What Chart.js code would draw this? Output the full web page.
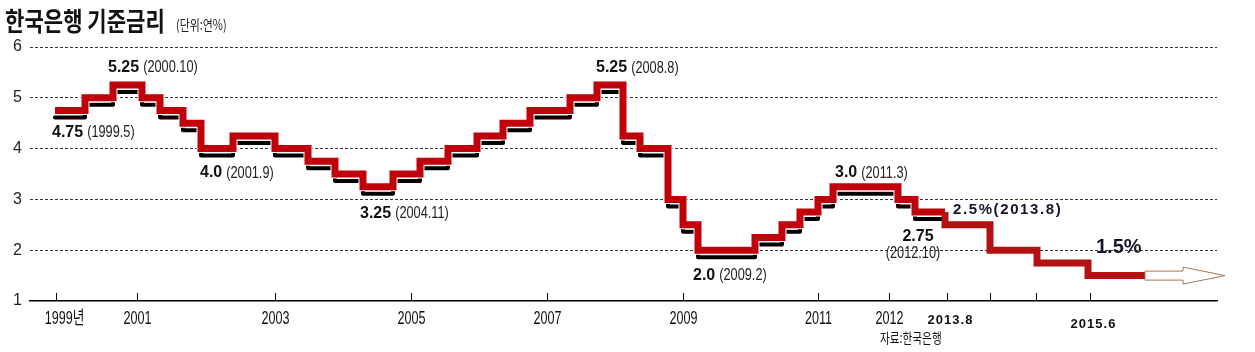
<!DOCTYPE html>
<html><head><meta charset="utf-8">
<script src="https://cdn.jsdelivr.net/npm/chart.js@4.4.1/dist/chart.umd.min.js"></script>
<style>html,body{margin:0;padding:0;background:#fff;}canvas{display:block}</style>
</head><body>
<canvas id="c" width="1255" height="352"></canvas>
<script>
// Positions along the (non-uniform) timeline axis
const stepPos  = [25,55,83,112,130,153,171,203,245,278,305,333,363,390,418,447,473,500,540,567,593,610,638,653,668,725,752,770,788,803,868,885,915];
const stepRate = [4.75,5.0,5.25,5.0,4.75,4.5,4.0,4.25,4.0,3.75,3.5,3.25,3.5,3.75,4.0,4.25,4.5,4.75,5.0,5.25,4.25,4.0,3.0,2.5,2.0,2.25,2.5,2.75,3.0,3.25,3.0,2.75,2.75];
const recentPos  = [915,915,960,1007,1058,1115];
const recentRate = [2.75,2.5,2.0,1.75,1.5,1.5];
const arrowPos  = [1115,1195];
const arrowRate = 1.5;
const xTickPos    = [26,107,245,381,517,653,788,859,917,960,1006,1060];
const xTickLabels = ['1999년','2001','2003','2005','2007','2009','2011','2012','2013.8','','','2015.6'];
const noteBold = ['5.25','4.75','4.0','3.25','5.25','2.0','3.0'];
const noteDate = ['(2000.10)','(1999.5)','(2001.9)','(2004.11)','(2008.8)','(2009.2)','(2011.3)'];
const notePos  = [78,22,170,330,566,663,805];
const noteRate = [5.6,4.32,3.52,2.72,5.59,1.5,3.52];

const SANS = "'Liberation Sans',Arial,'Noto Sans CJK KR',sans-serif";
const KR = "'Noto Sans CJK KR',sans-serif";

function txt(ctx, s, x, y, font, color, align, sx, spacing){
  ctx.save();
  ctx.font = font; ctx.fillStyle = color; ctx.textBaseline = 'middle';
  ctx.textAlign = align || 'left';
  if (spacing) ctx.letterSpacing = spacing;
  ctx.translate(x, y); ctx.scale(sx || 1, 1);
  ctx.fillText(s, 0, 0);
  ctx.restore();
}
function measure(ctx, s, font){ ctx.save(); ctx.font = font; const w = ctx.measureText(s).width; ctx.restore(); return w; }

const pts = (xs, ys) => xs.map((x, i) => ({x, y: ys[i]}));

const shadowPlugin = {
  id: 'shadow',
  beforeDatasetDraw(chart, args){ if (chart.data.datasets[args.index].isShadow){ chart.ctx.save(); chart.ctx.translate(0, 7); } },
  afterDatasetDraw(chart, args){ if (chart.data.datasets[args.index].isShadow){ chart.ctx.restore(); } }
};

const decoPlugin = {
  id: 'deco',
  afterDraw(chart){
    const ctx = chart.ctx, xs = chart.scales.x, ys = chart.scales.y;
    const bottom = chart.chartArea.bottom;
    // title
    txt(ctx, '한국은행 기준금리', 5, 21, 'bold 26px ' + KR, '#111', 'left', 0.81);
    txt(ctx, '(단위:연%)', 176, 25, '14px ' + KR, '#222', 'left', 0.78);
    // x ticks and labels
    ctx.save(); ctx.strokeStyle = '#000'; ctx.lineWidth = 1;
    xTickPos.forEach((p, i) => {
      const px = Math.round(xs.getPixelForValue(p)) + 0.5;
      ctx.beginPath(); ctx.moveTo(px, bottom - 8); ctx.lineTo(px, bottom); ctx.stroke();
      const lab = xTickLabels[i];
      if (!lab) return;
      if (lab.indexOf('.') > 0) {
        txt(ctx, lab, px + 3, lab === '2015.6' ? 324 : 320, 'bold 13px ' + SANS, '#111', 'center', 1, '1px');
      } else {
        txt(ctx, lab, px + (i === 0 ? 8 : 0), 319, '18px ' + SANS, '#111', 'center', 0.7);
      }
    });
    ctx.restore();
    txt(ctx, '자료:한국은행', 880, 338, '14px ' + KR, '#111', 'left', 0.76);
    // annotations
    const bf = 'bold 16px ' + SANS, nf = '17px ' + SANS;
    noteBold.forEach((b, i) => {
      const x = xs.getPixelForValue(notePos[i]), y = ys.getPixelForValue(noteRate[i]);
      txt(ctx, b, x, y, bf, '#111');
      txt(ctx, noteDate[i], x + measure(ctx, b, bf) + 4, y, nf, '#222', 'left', 0.75);
    });
    // 2.75 (2012.10) stacked
    {
      const x = xs.getPixelForValue(888), y = ys.getPixelForValue(2.26);
      txt(ctx, '2.75', x, y, bf, '#111', 'center');
      txt(ctx, '(2012.10)', x - 5, ys.getPixelForValue(1.93), nf, '#222', 'center', 0.75);
    }
    txt(ctx, '2.5%(2013.8)', xs.getPixelForValue(923), ys.getPixelForValue(2.8), 'bold 15px ' + SANS, '#15152a', 'left', 1, '1.6px');
    txt(ctx, '1.5%', xs.getPixelForValue(1066), ys.getPixelForValue(2.05), 'bold 20px ' + SANS, '#15152a', 'left');
    // outline arrow
    const ax0 = xs.getPixelForValue(arrowPos[0]), ax1 = xs.getPixelForValue(arrowPos[1]), ay = ys.getPixelForValue(arrowRate);
    const hb = ax1 - 42;
    ctx.save();
    ctx.fillStyle = '#fff'; ctx.strokeStyle = '#a87550'; ctx.lineWidth = 1;
    ctx.beginPath();
    ctx.moveTo(ax0, ay - 4.5); ctx.lineTo(hb, ay - 4.5); ctx.lineTo(hb, ay - 8.5); ctx.lineTo(ax1, ay);
    ctx.lineTo(hb, ay + 8.5); ctx.lineTo(hb, ay + 4.5); ctx.lineTo(ax0, ay + 4.5); ctx.closePath();
    ctx.fill(); ctx.stroke();
    ctx.restore();
  }
};

new Chart(document.getElementById('c'), {
  type: 'line',
  data: {
    datasets: [
      { data: pts(recentPos, recentRate), borderColor: '#b31212', borderWidth: 7, stepped: true, pointRadius: 0, borderJoinStyle: 'miter' },
      { data: pts(stepPos, stepRate), borderColor: '#c0000a', borderWidth: 7, stepped: true, pointRadius: 0, borderJoinStyle: 'miter' },
      { data: pts(stepPos, stepRate), borderColor: '#ffffff', borderWidth: 9, stepped: true, pointRadius: 0, borderJoinStyle: 'miter' },
      { data: pts(stepPos, stepRate), borderColor: '#000000', borderWidth: 4, stepped: true, pointRadius: 0, isShadow: true, borderJoinStyle: 'round', borderCapStyle: 'round' }
    ]
  },
  options: {
    responsive: false, animation: false, events: [],
    layout: { padding: { left: 0, top: 47, right: 38, bottom: 0 } },
    plugins: { legend: { display: false }, tooltip: { enabled: false } },
    scales: {
      x: {
        type: 'linear', min: 0, max: 1187,
        grid: { display: false },
        border: { display: true, color: '#000', width: 1.5 },
        ticks: { display: false },
        afterFit: s => { s.height = 51; }
      },
      y: {
        min: 1, max: 6,
        ticks: { stepSize: 1, padding: 8, color: '#222', font: { family: SANS, size: 16 } },
        grid: { drawTicks: false, lineWidth: 1, color: c => (c.tick && c.tick.value === 1) ? 'rgba(0,0,0,0)' : '#333' },
        border: { display: false, dash: [3, 2] },
        afterFit: s => { s.width = 30; }
      }
    }
  },
  plugins: [shadowPlugin, decoPlugin]
});
</script>
</body></html>
